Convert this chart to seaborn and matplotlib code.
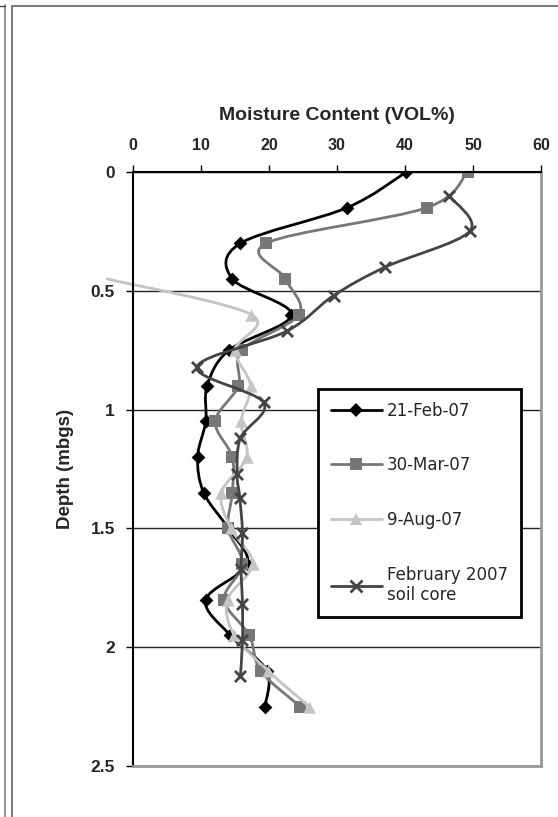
import numpy as np
import matplotlib
matplotlib.use("Agg")
import matplotlib.pyplot as plt
import seaborn as sns
from matplotlib.path import Path
from matplotlib.patches import PathPatch
from matplotlib.lines import Line2D

# ---------------- data ----------------
depth_feb = [0, 0.15, 0.3, 0.45, 0.6, 0.75, 0.9, 1.05, 1.2, 1.35, 1.5, 1.65, 1.8, 1.95, 2.1, 2.25]
mc_feb = [40.2, 31.5, 15.8, 14.6, 23.3, 14.1, 10.9, 10.7, 9.5, 10.4, 14.0, 16.8, 10.7, 14.3, 19.7, 19.4]

depth_mar = [0, 0.15, 0.3, 0.45, 0.6, 0.75, 0.9, 1.05, 1.2, 1.35, 1.5, 1.65, 1.8, 1.95, 2.1, 2.25]
mc_mar = [49.2, 43.2, 19.6, 22.4, 24.4, 16.0, 15.5, 12.1, 14.6, 14.6, 14.0, 16.1, 13.4, 17.1, 18.8, 24.6]

depth_aug = [0.45, 0.6, 0.75, 0.9, 1.05, 1.2, 1.35, 1.5, 1.65, 1.8, 1.95, 2.1, 2.25]
mc_aug = [-3.8, 17.4, 15.0, 17.3, 15.9, 16.7, 13.0, 14.4, 17.6, 13.9, 14.9, 19.9, 25.9]

depth_core = [0.1, 0.25, 0.4, 0.52, 0.67, 0.82, 0.97, 1.12, 1.27, 1.37, 1.52, 1.67, 1.82, 1.97, 2.12]
mc_core = [46.5, 49.5, 37.1, 29.5, 22.6, 9.4, 19.2, 15.8, 15.3, 15.7, 16.1, 15.9, 16.1, 16.1, 15.8]

series_labels = ["21-Feb-07", "30-Mar-07", "9-Aug-07", "February 2007\nsoil core"]
x_ticks = [0, 10, 20, 30, 40, 50, 60]
y_ticks = [0, 0.5, 1, 1.5, 2, 2.5]
y_tick_labels = ["0", "0.5", "1", "1.5", "2", "2.5"]

# ---------------- style ----------------
sns.set_style("white")
plt.rcParams["font.family"] = ["Liberation Sans", "DejaVu Sans"]

W, H = 558, 817
fig = plt.figure(figsize=(W / 100, H / 100), dpi=100)
ax = fig.add_axes([133 / W, 1 - 766 / H, (541 - 133) / W, (766 - 172) / H])


def smooth_path(x, y):
    pts = np.column_stack([x, y]).astype(float)
    n = len(pts)
    verts = [pts[0]]
    codes = [Path.MOVETO]
    for i in range(n - 1):
        p0 = pts[i - 1] if i > 0 else pts[i]
        p1 = pts[i]
        p2 = pts[i + 1]
        p3 = pts[i + 2] if i + 2 < n else pts[i + 1]
        c1 = p1 + (p2 - p0) / 6.0
        c2 = p2 - (p3 - p1) / 6.0
        verts += [c1, c2, p2]
        codes += [Path.CURVE4] * 3
    return Path(verts, codes)


styles = [
    dict(x=mc_feb, y=depth_feb, color="#000000", marker="D", ms=7, z=3),
    dict(x=mc_mar, y=depth_mar, color="#777777", marker="s", ms=8, z=4),
    dict(x=mc_aug, y=depth_aug, color="#c4c4c4", marker="^", ms=9, z=5),
    dict(x=mc_core, y=depth_core, color="#444444", marker="x", ms=8, z=6),
]

handles = []
for st in styles:
    patch = PathPatch(smooth_path(st["x"], st["y"]), fill=False, edgecolor=st["color"],
                      lw=2, zorder=st["z"], clip_on=False, capstyle="round", joinstyle="round")
    ax.add_patch(patch)
    if st["marker"] == "x":
        sns.scatterplot(x=st["x"], y=st["y"], ax=ax, marker="x", s=st["ms"] ** 2,
                        color=st["color"], linewidth=2, zorder=st["z"] + 0.5, legend=False)
    else:
        sns.scatterplot(x=st["x"], y=st["y"], ax=ax, marker=st["marker"], s=st["ms"] ** 2,
                        color=st["color"], edgecolor=st["color"], linewidth=0,
                        zorder=st["z"] + 0.5, legend=False)
    handles.append(Line2D([], [], color=st["color"], lw=2, marker=st["marker"],
                          markersize=st["ms"], markeredgewidth=2 if st["marker"] == "x" else 0,
                          markerfacecolor=st["color"], markeredgecolor=st["color"]))

ax.set_xlim(0, 60)
ax.set_ylim(2.5, 0)
ax.set_xticks(x_ticks)
ax.set_xticklabels([str(v) for v in x_ticks], fontsize=11.5, fontweight="bold")
ax.set_yticks(y_ticks)
ax.set_yticklabels(y_tick_labels, fontsize=12.5, fontweight="bold")
ax.xaxis.tick_top()
ax.xaxis.set_label_position("top")
ax.tick_params(axis="x", direction="out", length=5, width=1, color="black", pad=9, top=True, bottom=False)
ax.tick_params(axis="y", direction="out", length=5, width=1, color="black", pad=8, left=True)

ax.set_xlabel("Moisture Content (VOL%)", fontsize=14, fontweight="bold", labelpad=13)
ax.set_ylabel("Depth (mbgs)", fontsize=13.5, fontweight="bold", labelpad=12)

ax.yaxis.grid(True, color="#222222", lw=1)
ax.xaxis.grid(False)
ax.set_axisbelow(True)

for s in ["top", "left"]:
    ax.spines[s].set_color("black")
    ax.spines[s].set_linewidth(1.5)
for s in ["right", "bottom"]:
    ax.spines[s].set_color("#999999")
    ax.spines[s].set_linewidth(2)
for s in ax.spines.values():
    s.set_visible(True)
    s.set_zorder(8)

leg = ax.legend(handles, series_labels, loc="upper left",
                bbox_to_anchor=(318 / W, 1 - 389 / H), bbox_transform=fig.transFigure,
                borderaxespad=0, frameon=True, fancybox=False, shadow=False,
                prop={"family": "DejaVu Sans", "size": 12},
                handlelength=3.1, handletextpad=0.3, labelspacing=2.2, borderpad=0.75,
                framealpha=1)
leg.get_frame().set_edgecolor("black")
leg.get_frame().set_linewidth(2)
leg.set_zorder(10)

# outer frame lines
fc = "#808080"
fig.add_artist(Line2D([4.5 / W, 4.5 / W], [0, 1 - 5 / H], color=fc, lw=1.2, transform=fig.transFigure))
fig.add_artist(Line2D([0, 4.5 / W], [1 - 5.5 / H, 1 - 5.5 / H], color="#444444", lw=1, transform=fig.transFigure))
fig.add_artist(Line2D([12 / W, 12 / W], [0, 1 - 5.5 / H], color=fc, lw=1.5, transform=fig.transFigure))
fig.add_artist(Line2D([11.5 / W, 1], [1 - 6 / H, 1 - 6 / H], color=fc, lw=1.5, transform=fig.transFigure))

fig.savefig("out.png", dpi=100)
